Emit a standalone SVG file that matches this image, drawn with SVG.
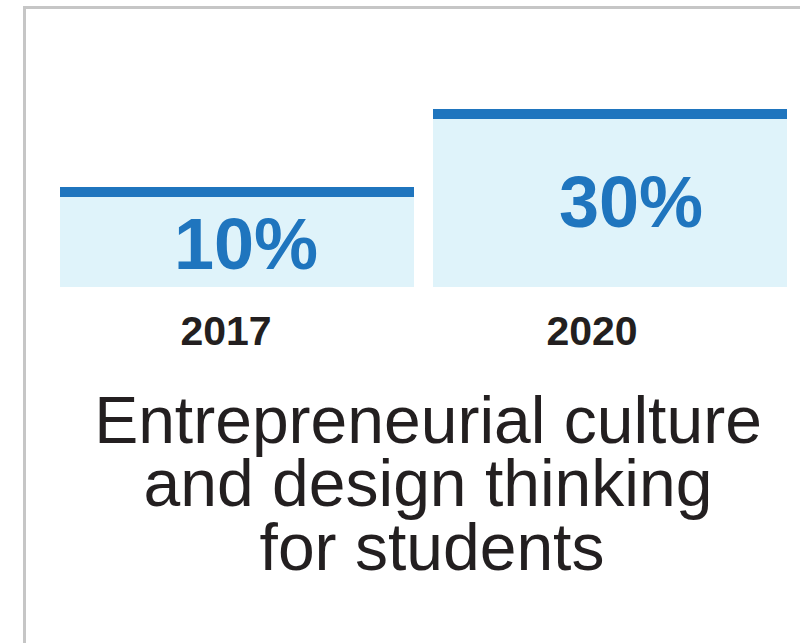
<svg xmlns="http://www.w3.org/2000/svg" width="800" height="643" viewBox="0 0 800 643">
<style>
.frame{fill:none;stroke:#c6c6c6;stroke-width:3}
.fill{fill:#dff3fa}
.cap{fill:#1f75be}
.pct{font-family:"Liberation Sans",Arial,sans-serif;font-weight:bold;font-size:72px;fill:#1f75be;text-anchor:middle}
.yr{font-family:"Liberation Sans",Arial,sans-serif;font-weight:bold;font-size:41px;fill:#231f20;text-anchor:middle}
.lbl{font-family:"Liberation Sans",Arial,sans-serif;font-size:66px;fill:#231f20;text-anchor:middle}
</style>
<rect width="800" height="643" fill="#ffffff"/>
<path class="frame" d="M24.5,643 V7.5 H800"/>
<g id="bar2017">
<rect class="fill" x="60" y="196" width="354" height="91"/>
<rect class="cap" x="60" y="187" width="354" height="10"/>
<text class="pct" x="246" y="269">10%</text>
<text class="yr" x="226" y="345">2017</text>
</g>
<g id="bar2020">
<rect class="fill" x="433" y="118" width="354" height="169"/>
<rect class="cap" x="433" y="109" width="354" height="10"/>
<text class="pct" x="631" y="227">30%</text>
<text class="yr" x="592" y="345">2020</text>
</g>
<g id="caption">
<text class="lbl" x="428" y="443">Entrepreneurial culture</text>
<text class="lbl" x="428" y="506">and design thinking</text>
<text class="lbl" x="432" y="570">for students</text>
</g>
</svg>
